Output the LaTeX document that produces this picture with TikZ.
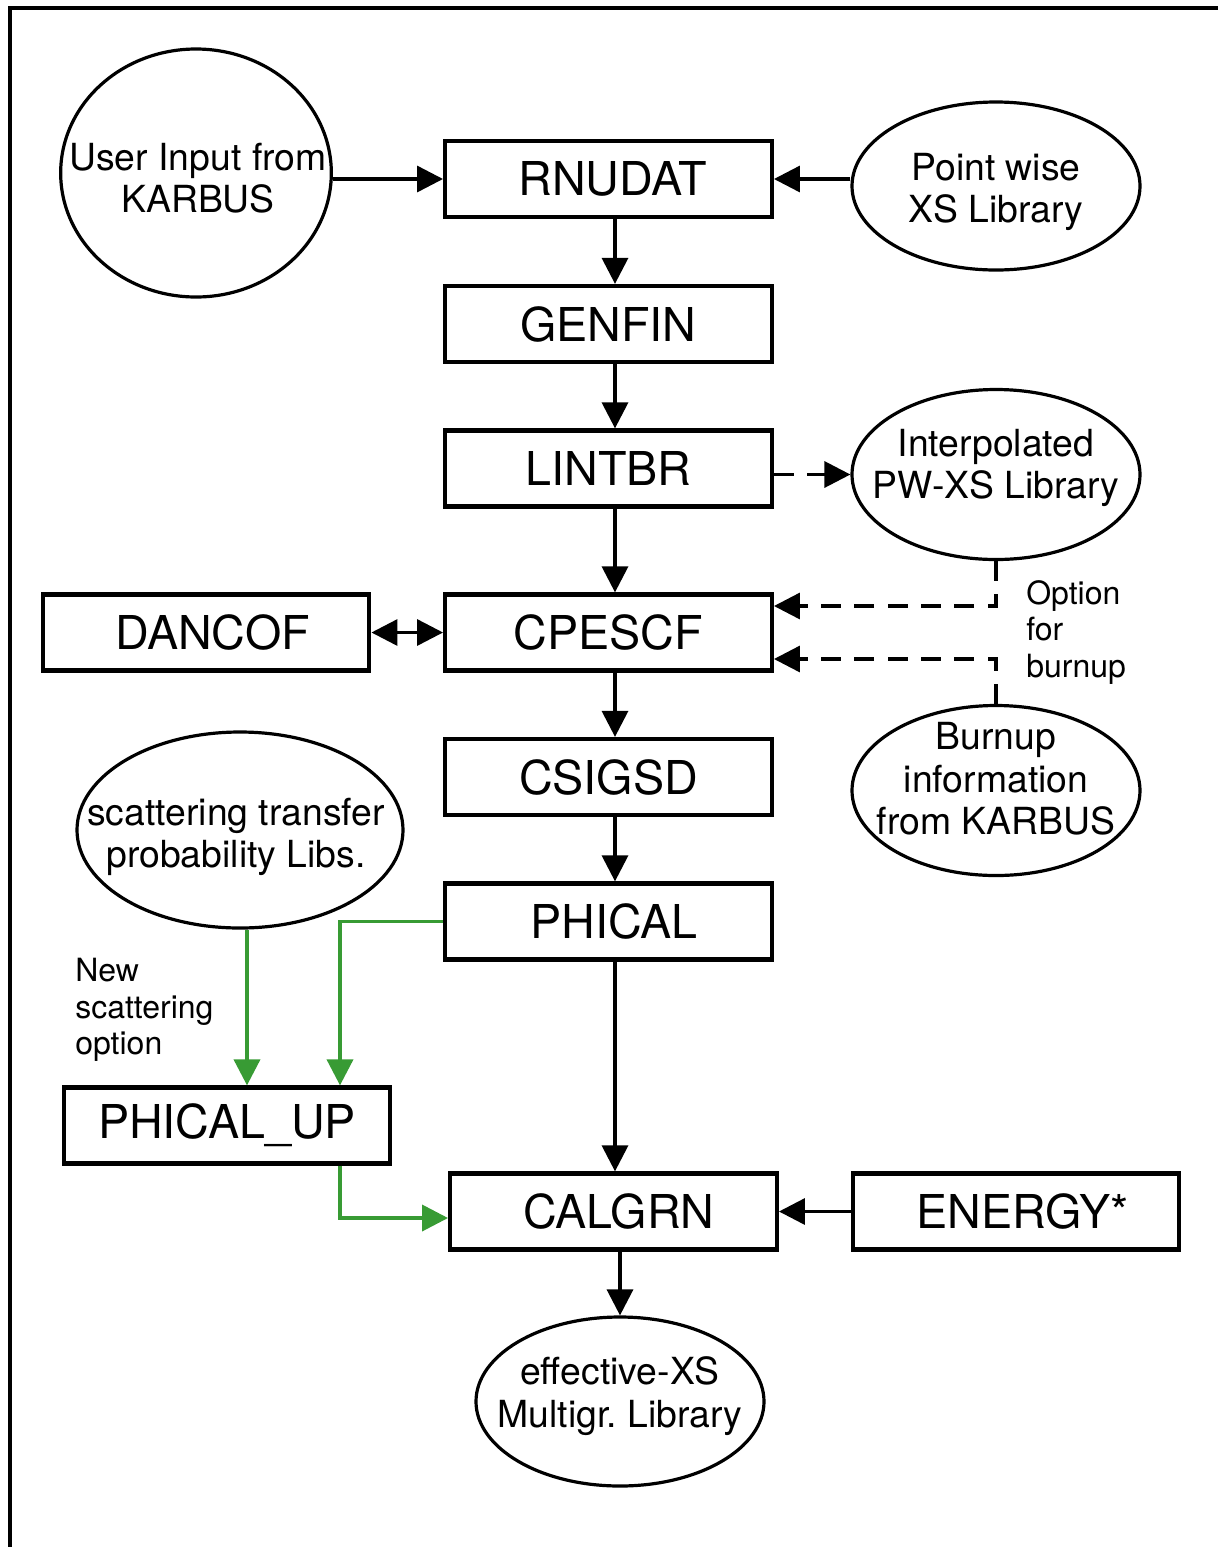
\documentclass[tikz,border=0pt]{standalone}
\usepackage{fontspec}
\setmainfont{TeX Gyre Heros}
\usetikzlibrary{arrows.meta,shapes.geometric,calc}
\definecolor{gline}{RGB}{56,155,52}
\begin{document}
\begin{tikzpicture}[x=0.75pt,y=-0.75pt,
  box/.style={draw,line width=3.2pt,minimum width=245pt,minimum height=57pt,inner sep=0pt,font=\fontsize{35pt}{40pt}\selectfont},
  ell/.style={draw,ellipse,line width=2.4pt,inner sep=0pt},
  etext/.style={align=center,inner sep=0pt,font=\fontsize{28pt}{32pt}\selectfont},
  lbl/.style={align=left,inner sep=0pt,anchor=north west,font=\fontsize{24pt}{27.5pt}\selectfont},
  arr/.style={line width=2.5pt,-{Triangle[length=19.5pt,width=19.5pt]}},
  darr/.style={line width=2.5pt,dash pattern=on 15pt off 10pt,-{Triangle[length=19.5pt,width=19.5pt]}},
  garr/.style={line width=2.8pt,draw=gline,-{Triangle[length=19.5pt,width=19.5pt,fill=gline]}}]
\useasboundingbox (0,0) rectangle (1218,1547);
\draw[line width=3pt] (10,1547) -- (10,8) -- (1218,8);

% boxes
\node[box] (rnudat) at (608.5,179) {\hspace*{6pt}RNUDAT};
\node[box] (genfin) at (608.5,324) {GENFIN};
\node[box] (lintbr) at (608.5,468.5) {LINTBR};
\node[box] (cpescf) at (608.5,632.5) {CPESCF};
\node[box] (csigsd) at (608.5,777) {CSIGSD};
\node[box] (phical) at (608.5,921.5) {\hspace*{8pt}PHICAL};
\node[box] (dancof) at (206,632.5) {\hspace*{10pt}DANCOF};
\node[box] (phup) at (227,1125.5) {PHICAL\_UP};
\node[box] (calgrn) at (613.5,1211.5) {\hspace*{8pt}CALGRN};
\node[box] (energy) at (1016,1211.5) {\hspace*{10pt}ENERGY*};

% ellipses
\node[ell,minimum width=203pt,minimum height=186pt] (user) at (196,173) {};
\node[etext] (userT) at (198,178) {User Input from\\KARBUS};
\node[ell,minimum width=216pt,minimum height=126pt] (pw) at (996,186) {};
\node[etext] (pwT) at (996,192) {Point wise\\XS Library};
\node[ell,minimum width=216pt,minimum height=127.5pt] (interp) at (996,474.5) {};
\node[etext] (interpT) at (996,468) {Interpolated\\PW-XS Library};
\node[ell,minimum width=216pt,minimum height=127.5pt] (burn) at (996,790.5) {};
\node[etext] (burnT) at (996,779) {Burnup\\information\\from KARBUS};
\node[ell,minimum width=244.5pt,minimum height=147pt] (scat) at (240,830) {};
\node[etext] (scatT) at (236,837) {scattering transfer\\probability Libs.};
\node[ell,minimum width=216pt,minimum height=126.75pt] (eff) at (620,1401.5) {};
\node[etext] (effT) at (620,1396) {effective-XS\\Multigr.\ Library};

% labels
\node[lbl] (optT) at (1026,580) {Option\\for\\burnup};
\node[lbl] (newT) at (75,958) {New\\scattering\\option};

% connectors
\coordinate (vx) at (615,0);
\draw[arr] (rnudat.west -| user.east) -- (rnudat.west);
\draw[arr] (rnudat.east -| pw.west) -- (rnudat.east);
\draw[arr] (vx |- rnudat.south) -- (vx |- genfin.north);
\draw[arr] (vx |- genfin.south) -- (vx |- lintbr.north);
\draw[arr] (vx |- lintbr.south) -- (vx |- cpescf.north);
\draw[arr] (vx |- cpescf.south) -- (vx |- csigsd.north);
\draw[arr] (vx |- csigsd.south) -- (vx |- phical.north);
\draw[arr] (vx |- phical.south) -- (vx |- calgrn.north);
\draw[arr] (eff.north |- calgrn.south) -- (eff.north);
\draw[arr] (energy.west) -- (calgrn.east);
\draw[line width=2.5pt,{Triangle[length=19.5pt,width=19.5pt]}-{Triangle[length=19.5pt,width=19.5pt]}] (dancof.east) -- (cpescf.west);
\draw[darr] (lintbr.east |- interp.west) -- (interp.west);
\draw[darr] (interp.south) |- ($(cpescf.east)+(0,-26.5)$);
\draw[darr] (burn.north) |- ($(cpescf.east)+(0,26.5)$);

% green connectors
\coordinate (gx) at (340,0);
\coordinate (sx) at (247,0);
\draw[garr] (sx |- scat.south) -- (sx |- phup.north);
\draw[garr] (phical.west) -| (gx |- phup.north);
\draw[garr] (gx |- phup.south) |- ($(calgrn.west)+(0,6.5)$);
\end{tikzpicture}
\end{document}
